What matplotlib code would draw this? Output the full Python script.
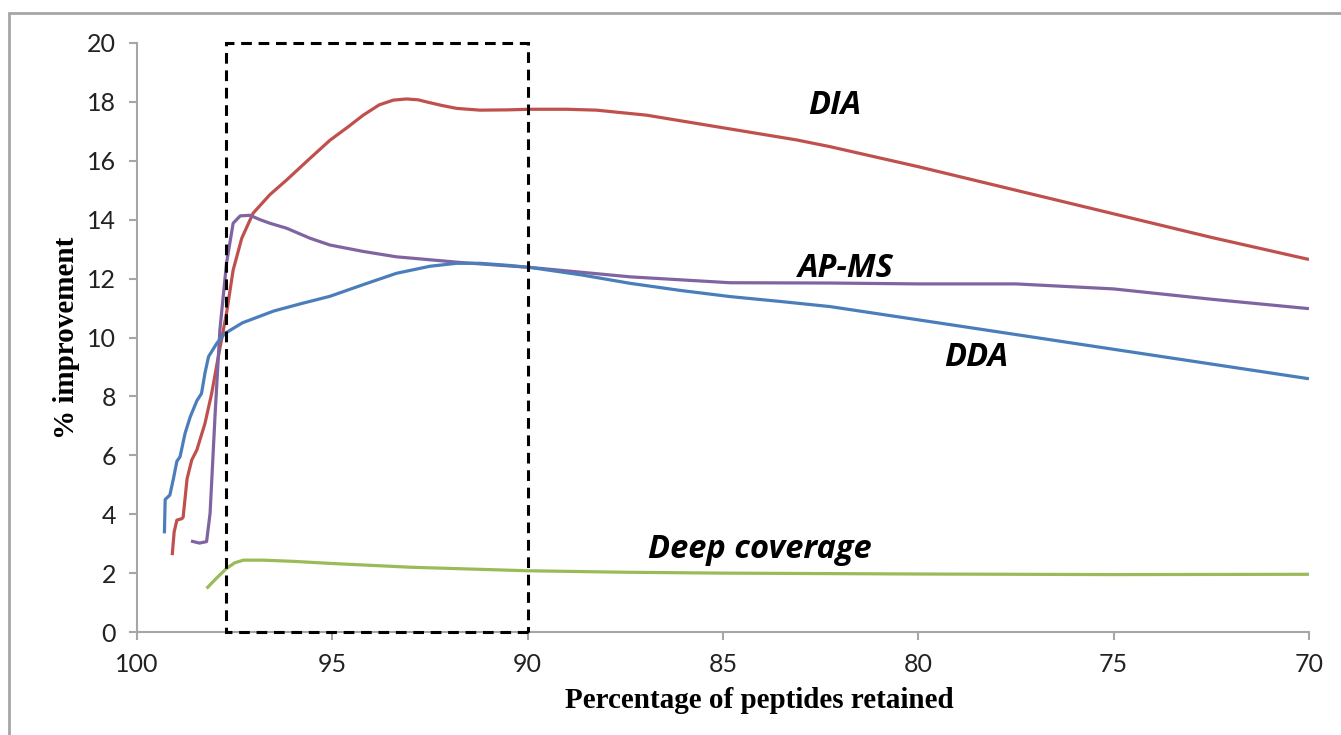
import numpy as np
import matplotlib.pyplot as plt
from matplotlib.patches import Rectangle

# Percentage of peptides retained (x) vs % improvement (y)
dda_x = [99.30, 99.28, 99.20, 99.16, 99.07, 98.98, 98.90, 98.77, 98.64, 98.47, 98.35,
         98.26, 98.17, 97.96, 97.75, 97.30, 96.50, 95.80, 95.06, 94.20, 93.36, 92.50,
         91.82, 91.22, 90.50, 89.94, 88.60, 87.38, 86.10, 84.82, 83.50, 82.26, 80.00,
         77.50, 75.00, 72.50, 70.00]
dda_y = [3.35, 4.50, 4.60, 4.65, 5.20, 5.80, 5.95, 6.75, 7.30, 7.85, 8.10,
         8.80, 9.35, 9.80, 10.14, 10.50, 10.90, 11.15, 11.40, 11.80, 12.18, 12.42,
         12.52, 12.52, 12.45, 12.38, 12.12, 11.84, 11.60, 11.39, 11.22, 11.05, 10.60,
         10.10, 9.60, 9.10, 8.60]

dia_x = [99.10, 99.05, 98.98, 98.85, 98.82, 98.72, 98.60, 98.47, 98.26, 98.09, 97.92,
         97.71, 97.54, 97.32, 97.03, 96.60, 96.17, 95.60, 95.06, 94.60, 94.21, 93.80,
         93.44, 93.10, 92.80, 92.59, 92.20, 91.82, 91.22, 90.50, 89.94, 89.00, 88.24,
         86.96, 85.68, 84.40, 83.12, 82.26, 80.00, 77.50, 75.00, 72.50, 70.00]
dia_y = [2.61, 3.40, 3.80, 3.85, 3.90, 5.20, 5.84, 6.18, 7.09, 8.10, 9.35,
         10.82, 12.29, 13.37, 14.22, 14.85, 15.35, 16.05, 16.70, 17.15, 17.55, 17.90,
         18.06, 18.10, 18.07, 18.00, 17.88, 17.78, 17.72, 17.73, 17.75, 17.75, 17.72,
         17.55, 17.27, 16.99, 16.71, 16.48, 15.80, 15.00, 14.20, 13.40, 12.65]

apms_x = [98.62, 98.40, 98.22, 98.13, 98.00, 97.88, 97.71, 97.54, 97.36, 97.11, 96.85,
          96.60, 96.17, 95.57, 95.06, 94.20, 93.36, 91.65, 89.94, 87.38, 84.82, 82.26,
          80.00, 77.50, 75.00, 72.50, 70.00]
apms_y = [3.09, 3.02, 3.07, 4.04, 7.44, 10.25, 12.52, 13.88, 14.13, 14.15, 14.00,
          13.88, 13.71, 13.37, 13.14, 12.92, 12.74, 12.54, 12.38, 12.06, 11.86, 11.85,
          11.82, 11.82, 11.65, 11.30, 10.98]

deep_x = [98.22, 97.95, 97.71, 97.50, 97.28, 96.77, 96.00, 95.06, 93.00, 90.00, 87.50,
          85.00, 80.00, 75.00, 70.00]
deep_y = [1.48, 1.85, 2.16, 2.35, 2.44, 2.44, 2.40, 2.33, 2.20, 2.08, 2.03,
          2.00, 1.97, 1.95, 1.96]

# highlighted window
box_x = (97.72, 90.0)
box_y = (0, 20)

fig = plt.figure(figsize=(13.41, 7.35), dpi=100)
ax = fig.add_axes([0.1022, 0.1401, 0.8739, 0.8014])

line_kw = dict(lw=2.3, solid_capstyle='butt', solid_joinstyle='round')
ax.plot(dia_x, dia_y, color='#c0504d', **line_kw)
ax.plot(apms_x, apms_y, color='#8064a2', **line_kw)
ax.plot(dda_x, dda_y, color='#4a7ebb', **line_kw)
ax.plot(deep_x, deep_y, color='#9bbb59', **line_kw)

ax.add_patch(Rectangle((box_x[1], box_y[0]), box_x[0] - box_x[1], box_y[1] - box_y[0],
                       fill=False, ec='black', lw=2.2, ls=(0, (3.5, 2.2)),
                       clip_on=False, zorder=5))

ax.set_xlim(100, 70)
ax.set_ylim(0, 20)
ax.set_xticks([100, 95, 90, 85, 80, 75, 70])
ax.set_yticks(np.arange(0, 21, 2))

for s in ['top', 'right']:
    ax.spines[s].set_visible(False)
for s in ['left', 'bottom']:
    ax.spines[s].set_color('#a6a6a6')
    ax.spines[s].set_linewidth(1.5)
ax.tick_params(axis='both', colors='#a6a6a6', width=1.5, length=6,
               labelcolor='#222222', labelsize=18)
ax.tick_params(axis='y', pad=9)
ax.tick_params(axis='x', pad=9)
for lab in ax.get_xticklabels() + ax.get_yticklabels():
    lab.set_family('Lato')

ax.set_xlabel('Percentage of peptides retained', family='Liberation Serif',
              fontweight='bold', fontsize=21)
ax.xaxis.set_label_coords(0.531, -0.093)
ax.set_ylabel('% improvement', family='Liberation Serif',
              fontweight='bold', fontsize=21, labelpad=5)

lab_font = dict(family='Open Sans', fontweight='bold', style='italic',
                fontsize=23.5, ha='center', va='baseline')
ax.text(82.13, 17.6, 'DIA', **lab_font)
ax.text(81.85, 12.05, 'AP-MS', **lab_font)
ax.text(78.53, 9.03, 'DDA', **lab_font)
ax.text(84.05, 2.5, 'Deep coverage', **lab_font)

# outer frame of the original figure
fig.add_artist(Rectangle((9 / 1341, -0.1), 1.2, 1 - 13 / 735 + 0.1,
                         transform=fig.transFigure, fill=False,
                         ec='#a6a6a6', lw=2))

fig.savefig('out.png', dpi=100)
